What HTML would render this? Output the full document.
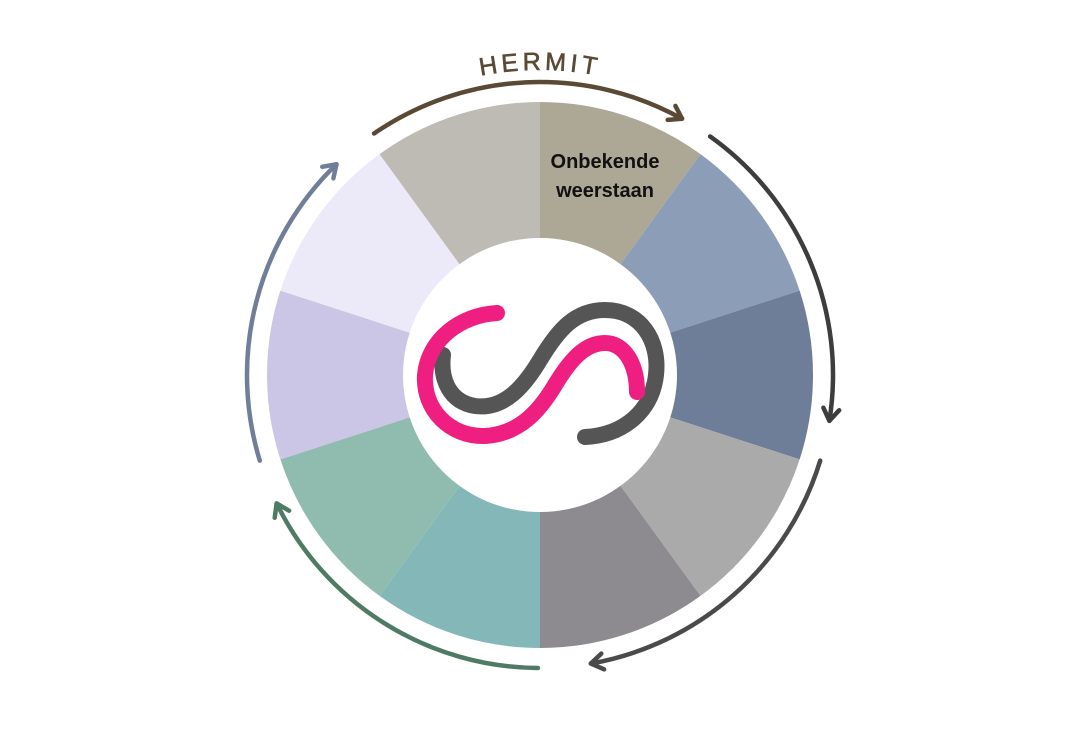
<!DOCTYPE html>
<html><head><meta charset="utf-8"><style>
html,body{margin:0;padding:0;background:#fff;}
svg{display:block;}
</style></head><body>
<svg width="1080" height="750" viewBox="0 0 1080 750" xmlns="http://www.w3.org/2000/svg">
<defs>
<path id="tp" d="M 235 375 A 305 305 0 0 1 845 375"/>
</defs>
<g id="wheel"></g>
<script>
(function(){
var cx=540,cy=375,R=273,r=137;
var cols=["#ada795","#8c9db8","#6e7d98","#aaaaaa","#8e8b90","#84b8b8","#8fbcae","#cbc5e6","#ece9f8","#bdbbb3"];
var g=document.getElementById('wheel');var ns="http://www.w3.org/2000/svg";
function pt(a,rad){a=a*Math.PI/180;return [cx+rad*Math.sin(a),cy-rad*Math.cos(a)];}
for(var i=0;i<10;i++){var a0=i*36,a1=a0+36;var p0=pt(a0,R),p1=pt(a1,R);
var d="M"+cx+","+cy+"L"+p0+"A"+R+","+R+" 0 0 1 "+p1+"Z";
var p=document.createElementNS(ns,'path');p.setAttribute('d',d);p.setAttribute('fill',cols[i]);g.appendChild(p);}
var c=document.createElementNS(ns,'circle');c.setAttribute('cx',cx);c.setAttribute('cy',cy);c.setAttribute('r',r);c.setAttribute('fill','#fff');g.appendChild(c);
var arcs=[[-34.5,29,"#5a4a35"],[35.5,99,"#3d3d3d"],[107,170,"#4a4a4a"],[180.4,244,"#4f7a64"],[253,316,"#6f7f9a"]];
var RA=293;
arcs.forEach(function(a){var s=pt(a[0],RA),e=pt(a[1],RA);
var p=document.createElementNS(ns,'path');p.setAttribute('d',"M"+s+"A"+RA+","+RA+" 0 0 1 "+e);
p.setAttribute('fill','none');p.setAttribute('stroke',a[2]);p.setAttribute('stroke-width','4.5');p.setAttribute('stroke-linecap','round');g.appendChild(p);
var ang=a[1]*Math.PI/180;var tx=Math.cos(ang),ty=Math.sin(ang);
var nx=Math.sin(ang),ny=-Math.cos(ang);
var b1=[e[0]-12*tx+8*nx,e[1]-12*ty+8*ny],b2=[e[0]-12*tx-8*nx,e[1]-12*ty-8*ny];
var q=document.createElementNS(ns,'path');q.setAttribute('d',"M"+b1+"L"+e+"L"+b2);
q.setAttribute('fill','none');q.setAttribute('stroke',a[2]);q.setAttribute('stroke-width','4.5');q.setAttribute('stroke-linecap','round');q.setAttribute('stroke-linejoin','round');g.appendChild(q);
});
})();
</script>
<text font-family="Liberation Sans, sans-serif" font-size="25" fill="#5a4a35" stroke="#5a4a35" stroke-width="0.6" letter-spacing="4" text-anchor="middle"><textPath href="#tp" startOffset="50%">HERMIT</textPath></text>
<text x="605" y="168" font-family="Liberation Sans, sans-serif" font-weight="bold" font-size="20" fill="#111" text-anchor="middle">Onbekende</text>
<text x="605" y="197" font-family="Liberation Sans, sans-serif" font-weight="bold" font-size="20" fill="#111" text-anchor="middle">weerstaan</text>
<g fill="none" stroke-linecap="round">
<path d="M443 355 C440 380 450 402 475 406 C505 410 525 385 540 360 C558 330 575 310 605 310 C640 310 660 340 656 375 C652 410 625 435 585 437" stroke="#555555" stroke-width="16"/>
<path d="M497 313 C460 315 428 340 425 375 C423 410 450 437 485 436 C520 434 540 410 555 385 C570 360 585 343 605 343 C625 343 637 365 637 392" stroke="#ee1f80" stroke-width="16"/>
</g>
</svg>
</body></html>
